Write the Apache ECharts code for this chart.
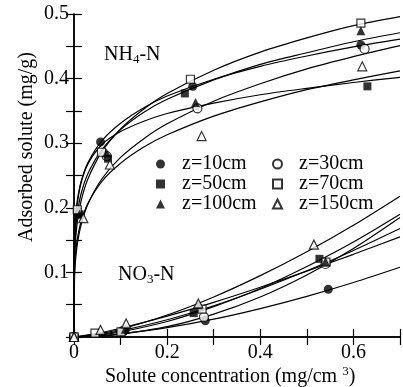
<!DOCTYPE html>
<html>
<head>
<meta charset="utf-8">
<script src="https://cdn.jsdelivr.net/npm/echarts@6/dist/echarts.min.js"></script>
<style>html,body{margin:0;padding:0;background:#fff;}#c{width:403px;height:387px;}</style>
</head>
<body>
<div id="c"></div>
<script>
// ---- data ----
const seriesNames = ['z=10cm', 'z=30cm', 'z=50cm', 'z=70cm', 'z=100cm', 'z=150cm'];

// measured points [concentration, adsorbed]
const nh4Points10 = [[0,0],[0.009,0.192],[0.057,0.302],[0.255,0.388],[0.616,0.452]];
const nh4Points30 = [[0,0],[0.07,0.28],[0.265,0.354],[0.624,0.446]];
const nh4Points50 = [[0,0],[0.012,0.19],[0.073,0.276],[0.238,0.377],[0.630,0.388]];
const nh4Points70 = [[0,0],[0.007,0.197],[0.059,0.286],[0.25,0.399],[0.616,0.486]];
const nh4Points100 = [[0,0],[0.012,0.19],[0.07,0.285],[0.261,0.363],[0.616,0.474]];
const nh4Points150 = [[0,0],[0.02,0.184],[0.077,0.267],[0.274,0.311],[0.619,0.419]];

const no3Points10 = [[0,0],[0.11,0.011],[0.282,0.025],[0.546,0.074]];
const no3Points30 = [[0,0],[0.105,0.009],[0.279,0.031],[0.54,0.113]];
const no3Points50 = [[0,0],[0.105,0.009],[0.257,0.037],[0.527,0.121]];
const no3Points70 = [[0,0],[0.045,0.006],[0.101,0.008],[0.275,0.043],[0.541,0.116]];
const no3Points100 = [[0,0],[0.11,0.012],[0.267,0.05],[0.54,0.117]];
const no3Points150 = [[0,0],[0.057,0.011],[0.112,0.021],[0.267,0.052],[0.515,0.143]];

// fitted curves
const nh4CurveX = [0, 0.001, 0.003, 0.007, 0.015, 0.03, 0.06, 0.1, 0.15, 0.2, 0.3, 0.4, 0.5, 0.6, 0.7];
const nh4Curve10 = [0,0.151,0.183,0.211,0.240,0.270,0.304,0.331,0.355,0.373,0.399,0.419,0.435,0.449,0.461];
const nh4Curve30 = [0,0.088,0.116,0.143,0.173,0.206,0.245,0.278,0.307,0.330,0.365,0.392,0.415,0.434,0.451];
const nh4Curve50 = [0,0.130,0.170,0.205,0.238,0.268,0.298,0.318,0.334,0.346,0.362,0.375,0.385,0.394,0.402];
const nh4Curve70 = [0,0.114,0.146,0.177,0.210,0.245,0.287,0.322,0.353,0.377,0.413,0.441,0.463,0.482,0.496];
const nh4Curve100 = [0,0.129,0.161,0.190,0.221,0.253,0.290,0.321,0.348,0.368,0.398,0.422,0.440,0.457,0.471];
const nh4Curve150 = [0,0.099,0.125,0.151,0.178,0.207,0.241,0.269,0.294,0.313,0.342,0.364,0.383,0.398,0.412];

const no3CurveX = [0, 0.05, 0.1, 0.2, 0.3, 0.4, 0.5, 0.6, 0.7];
const no3Curve10 = [0,0.0015,0.0047,0.0144,0.0276,0.044,0.063,0.0844,0.108];
const no3Curve30 = [0,0.0011,0.0042,0.016,0.0355,0.062,0.096,0.137,0.185];
const no3Curve50 = [0,0.0024,0.0077,0.024,0.047,0.075,0.109,0.147,0.190];
const no3Curve70 = [0,0.0035,0.0096,0.0267,0.0484,0.074,0.1025,0.134,0.168];
const no3Curve100 = [0,0.0057,0.0136,0.0324,0.0537,0.077,0.102,0.128,0.155];
const no3Curve150 = [0,0.0043,0.012,0.034,0.062,0.095,0.132,0.173,0.218];

const xTickLabels = ['0', '0.2', '0.4', '0.6'];
const yTickLabels = ['0.1', '0.2', '0.3', '0.4', '0.5'];

// ---- build chart ----
const FONT = '"Liberation Serif", "Times New Roman", serif';
const pointSets = [
  nh4Points10.concat(no3Points10), nh4Points30.concat(no3Points30),
  nh4Points50.concat(no3Points50), nh4Points70.concat(no3Points70),
  nh4Points100.concat(no3Points100), nh4Points150.concat(no3Points150)
];
const symbols = ['circle','circle','rect','rect','triangle','triangle'];
const filled = [true,false,true,false,true,false];
const nh4Curves = [nh4Curve10, nh4Curve30, nh4Curve50, nh4Curve70, nh4Curve100, nh4Curve150];
const no3Curves = [no3Curve10, no3Curve30, no3Curve50, no3Curve70, no3Curve100, no3Curve150];

const series = [];
function curveSeries(xs, ys){
  return {
    type: 'line', data: xs.map((x,i)=>[x, ys[i]]), showSymbol: false, symbol: 'none',
    smooth: 0.3, lineStyle: {color: '#000', width: 1.2}, z: 2, silent: true
  };
}
nh4Curves.forEach(c => series.push(curveSeries(nh4CurveX, c)));
no3Curves.forEach(c => series.push(curveSeries(no3CurveX, c)));
seriesNames.forEach((n, i) => {
  series.push({
    type: 'scatter', name: n, data: pointSets[i], symbol: symbols[i],
    symbolSize: symbols[i] === 'rect' ? 8 : 9,
    itemStyle: filled[i] ? {color: '#000'} : {color: '#fff', borderColor: '#000', borderWidth: 1.2},
    z: 5
  });
});

const axisCommon = {
  axisLine: {show: true, lineStyle: {color: '#000', width: 1.5}},
  axisTick: {show: true, inside: true, length: 8, lineStyle: {color: '#000', width: 1.2}},
  splitLine: {show: false}
};

const legendCommon = {
  orient: 'vertical', itemWidth: 9, itemHeight: 9, itemGap: 0,
  textStyle: {fontFamily: FONT, fontSize: 20, color: '#000', lineHeight: 20, padding: [0,0,0,12]},
  selectedMode: false, top: 149
};

const txt = (size) => ({fontFamily: FONT, fontSize: size, fontWeight: 'normal', color: '#000'});

const option = {
  animation: false,
  backgroundColor: '#fff',
  grid: {left: 74, right: 2, top: 14, bottom: 50, containLabel: false},
  xAxis: [
    Object.assign({}, axisCommon, {
      type: 'value', position: 'bottom', min: 0, max: 0.7, interval: 0.1,
      axisLabel: Object.assign(txt(20), {
        margin: 6,
        formatter: v => { const k = Math.round(v * 10); return (k % 2 === 0) ? xTickLabels[k / 2] : ''; }
      })
    }),
    Object.assign({}, axisCommon, {
      type: 'value', position: 'top', min: 0, max: 0.7, interval: 0.1, axisLabel: {show: false}
    })
  ],
  yAxis: [
    Object.assign({}, axisCommon, {
      type: 'value', position: 'left', min: 0, max: 0.5, interval: 0.1,
      minorTick: {show: true, splitNumber: 2, length: 8, lineStyle: {color: '#000', width: 1.2}},
      axisLabel: Object.assign(txt(20), {
        margin: 5,
        formatter: v => { const k = Math.round(v * 10); return k === 0 ? '' : yTickLabels[k - 1]; }
      })
    }),
    Object.assign({}, axisCommon, {
      type: 'value', position: 'right', min: 0, max: 0.5, interval: 0.1,
      minorTick: {show: true, splitNumber: 2, length: 8, lineStyle: {color: '#000', width: 1.2}},
      axisLabel: {show: false}
    })
  ],
  legend: [
    Object.assign({}, legendCommon, {left: 151, data: ['z=10cm', 'z=50cm', 'z=100cm']}),
    Object.assign({}, legendCommon, {left: 267, data: ['z=30cm', 'z=70cm', 'z=150cm']})
  ],
  title: [
    {
      text: '{a|NH}{s|4}{a|-N}', left: 99, top: 38,
      textStyle: Object.assign(txt(20), {rich: {
        a: txt(20),
        s: Object.assign(txt(13), {padding: [10, 0, 0, 0]})
      }})
    },
    {
      text: '{a|NO}{s|3}{a|-N}', left: 113, top: 258,
      textStyle: Object.assign(txt(20), {rich: {
        a: txt(20),
        s: Object.assign(txt(13), {padding: [10, 0, 0, 0]})
      }})
    },
    {
      text: '{a|Solute concentration (mg/cm }{s|3}{a|)}', left: 100, top: 360,
      textStyle: Object.assign(txt(20), {rich: {
        a: txt(20),
        s: Object.assign(txt(13), {padding: [0, 0, 10, 0]})
      }})
    }
  ],
  graphic: [
    {
      type: 'text', x: 27, y: 147, rotation: Math.PI / 2,
      style: {text: 'Adsorbed solute (mg/g)', font: '20px ' + FONT, fill: '#000', align: 'center', verticalAlign: 'middle'}
    }
  ],
  series: series
};

option.series.forEach(s => { s.xAxisIndex = 0; s.yAxisIndex = 0; });

const chart = echarts.init(document.getElementById('c'), null, {renderer: 'canvas'});
chart.setOption(option);
</script>
</body>
</html>
